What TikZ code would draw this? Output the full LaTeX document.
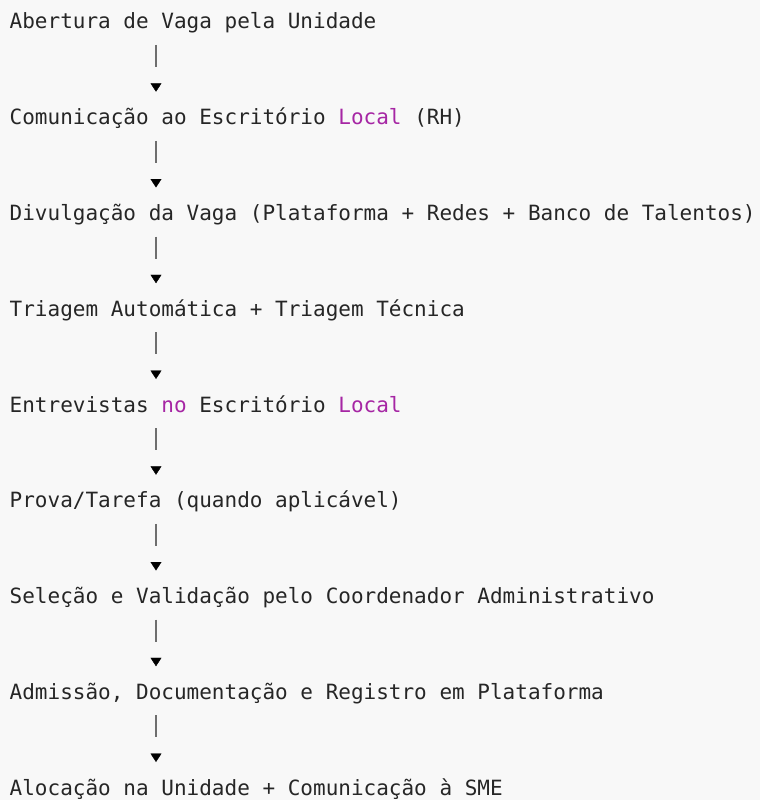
\documentclass[tikz,border=0pt]{standalone}
\usepackage{fontspec}
\setmonofont{DejaVu Sans Mono}
\usetikzlibrary{arrows.meta}
\definecolor{txt}{HTML}{262626}
\definecolor{kw}{HTML}{A626A4}
\definecolor{pagebg}{HTML}{F8F8F8}
\definecolor{barcol}{HTML}{6E6E6E}
\begin{document}
\begin{tikzpicture}[x=1pt,y=-1pt,
        stage/.style={anchor=base west,inner sep=0pt,text=txt,
            font=\ttfamily\fontsize{21}{25}\selectfont},
        link/.style={draw=barcol,line width=1.3pt,dash pattern=on 22pt off 40pt,
            -{Triangle[length=8.5pt,width=11pt,color=black,line width=0.4pt]}}]
\fill[pagebg] (0,0) rectangle (760,800);
\useasboundingbox (0,0) rectangle (760,800);
\coordinate (col) at (156,0);

\node[stage] (s1) at (9.5,29) {Abertura de Vaga pela Unidade};
\node[stage] (s2) at (9.5,124.75) {Comunicação ao Escritório \textcolor{kw}{Local} (RH)};
\node[stage] (s3) at (9.5,220.5) {Divulgação da Vaga (Plataforma + Redes + Banco de Talentos)};
\node[stage] (s4) at (9.5,316.25) {Triagem Automática + Triagem Técnica};
\node[stage] (s5) at (9.5,412) {Entrevistas \textcolor{kw}{no} Escritório \textcolor{kw}{Local}};
\node[stage] (s6) at (9.5,507.75) {Prova/Tarefa (quando aplicável)};
\node[stage] (s7) at (9.5,603.5) {Seleção e Validação pelo Coordenador Administrativo};
\node[stage] (s8) at (9.5,699.25) {Admissão, Documentação e Registro em Plataforma};
\node[stage] (s9) at (9.5,795) {Alocação na Unidade + Comunicação à SME};

% bar, gap, then the head
\foreach \a/\b in {s1/s2,s2/s3,s3/s4,s4/s5,s5/s6,s6/s7,s7/s8,s8/s9}
    \draw[link] ([yshift=-16pt]\a.base -| col) -- ([yshift=33pt]\b.base -| col);
\end{tikzpicture}
\end{document}
